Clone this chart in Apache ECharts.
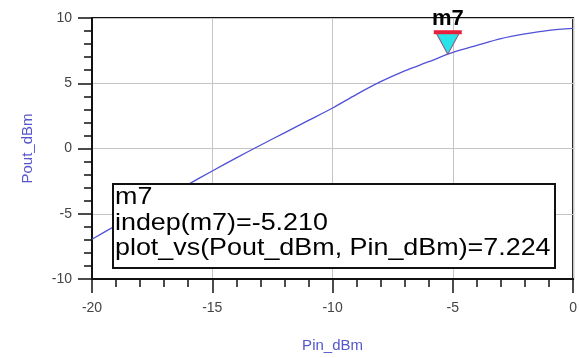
<!DOCTYPE html>
<html>
<head>
<meta charset="utf-8">
<script src="https://cdn.jsdelivr.net/npm/echarts@6/dist/echarts.min.js"></script>
<style>
html,body{margin:0;padding:0;background:#fff;}
#chart{width:580px;height:358px;}
</style>
</head>
<body>
<div id="chart"></div>
<script>
// ---- data ----
var pinValues  = [-20, -19, -18, -17, -16, -15, -14, -13, -12, -11, -10, -9, -8, -7, -6, -5, -4, -3, -2, -1, 0];
var poutValues = [-6.95, -5.9, -4.85, -3.8, -2.75, -1.72, -0.72, 0.25, 1.2, 2.15, 3.1, 4.15, 5.12, 5.95, 6.65, 7.36, 7.9, 8.42, 8.78, 9.05, 9.2];
var markerName = 'm7';
var markerPin  = [-5.210];
var markerPout = [7.224];
var xAxisTicks = [-20, -15, -10, -5, 0];
var yAxisTicks = [-10, -5, 0, 5, 10];
var xAxisTitle = 'Pin_dBm';
var yAxisTitle = 'Pout_dBm';

var seriesData = pinValues.map(function (p, i) { return [p, poutValues[i]]; });
var mp = [markerPin[0], markerPout[0]];
var boxText = markerName + '\n' +
  'indep(' + markerName + ')=' + markerPin[0].toFixed(3) + '\n' +
  'plot_vs(' + yAxisTitle + ', ' + xAxisTitle + ')=' + markerPout[0].toFixed(3);

var FONT = '"Liberation Sans", Arial, sans-serif';
var chart = echarts.init(document.getElementById('chart'), null, {renderer: 'canvas'});
chart.setOption({
  backgroundColor: '#ffffff',
  animation: false,
  grid: {left: 92, right: 6, top: 18, bottom: 78, show: true, borderColor: '#111', borderWidth: 2, backgroundColor: 'transparent'},
  xAxis: {
    type: 'value',
    min: xAxisTicks[0], max: xAxisTicks[xAxisTicks.length - 1], interval: 5,
    name: xAxisTitle, nameLocation: 'middle', nameGap: 59,
    nameTextStyle: {color: '#5555cc', fontSize: 15, fontFamily: FONT},
    axisLine: {show: true, onZero: false, lineStyle: {color: '#111', width: 2}},
    axisTick: {show: true, inside: false, length: 14, lineStyle: {color: '#111', width: 1.5}},
    minorTick: {show: true, splitNumber: 5, length: 8, lineStyle: {color: '#111', width: 1.5}},
    axisLabel: {color: '#444', fontSize: 14, fontFamily: FONT, margin: 22},
    splitLine: {show: true, lineStyle: {color: '#c4c4c4', width: 1}}
  },
  yAxis: {
    type: 'value',
    min: yAxisTicks[0], max: yAxisTicks[yAxisTicks.length - 1], interval: 5,
    name: yAxisTitle, nameLocation: 'middle', nameGap: 57,
    nameTextStyle: {color: '#5555cc', fontSize: 15, fontFamily: FONT},
    axisLine: {show: true, onZero: false, lineStyle: {color: '#111', width: 2}},
    axisTick: {show: true, inside: false, length: 14, lineStyle: {color: '#111', width: 1.5}},
    minorTick: {show: true, splitNumber: 5, length: 8, lineStyle: {color: '#111', width: 1.5}},
    axisLabel: {color: '#444', fontSize: 14, fontFamily: FONT, margin: 20},
    splitLine: {show: true, lineStyle: {color: '#c4c4c4', width: 1}}
  },
  series: [{
    type: 'line',
    data: seriesData,
    showSymbol: false,
    symbol: 'none',
    smooth: 0.3,
    lineStyle: {color: '#5050d8', width: 1.3},
    z: 3,
    markPoint: {
      silent: true,
      animation: false,
      z: 20,
      data: [
        {
          coord: mp,
          symbol: 'triangle', symbolRotate: 180, symbolSize: [24, 22], symbolOffset: [0, -11],
          itemStyle: {color: '#28e4e8', borderColor: '#8a5a8a', borderWidth: 1},
          label: {show: false}
        },
        {
          coord: mp,
          symbol: 'rect', symbolSize: [28, 4], symbolOffset: [0, -22],
          itemStyle: {color: '#e8203c'},
          label: {show: true, position: 'top', distance: 0, formatter: markerName,
                  color: '#000', fontSize: 22, fontWeight: 'bold', fontFamily: FONT}
        }
      ]
    }
  }],
  graphic: [{
    type: 'group',
    left: 112, top: 183,
    z: 100,
    children: [
      {type: 'rect', shape: {x: 0, y: 0, width: 442, height: 84},
       style: {fill: '#fff', stroke: '#111', lineWidth: 2}, z: 100},
      {type: 'text', x: 2, y: 1, z: 101, scaleX: 1.12,
       style: {text: boxText, fill: '#000', font: '24px ' + FONT, lineHeight: 25.5}}
    ]
  }]
});
</script>
</body>
</html>
